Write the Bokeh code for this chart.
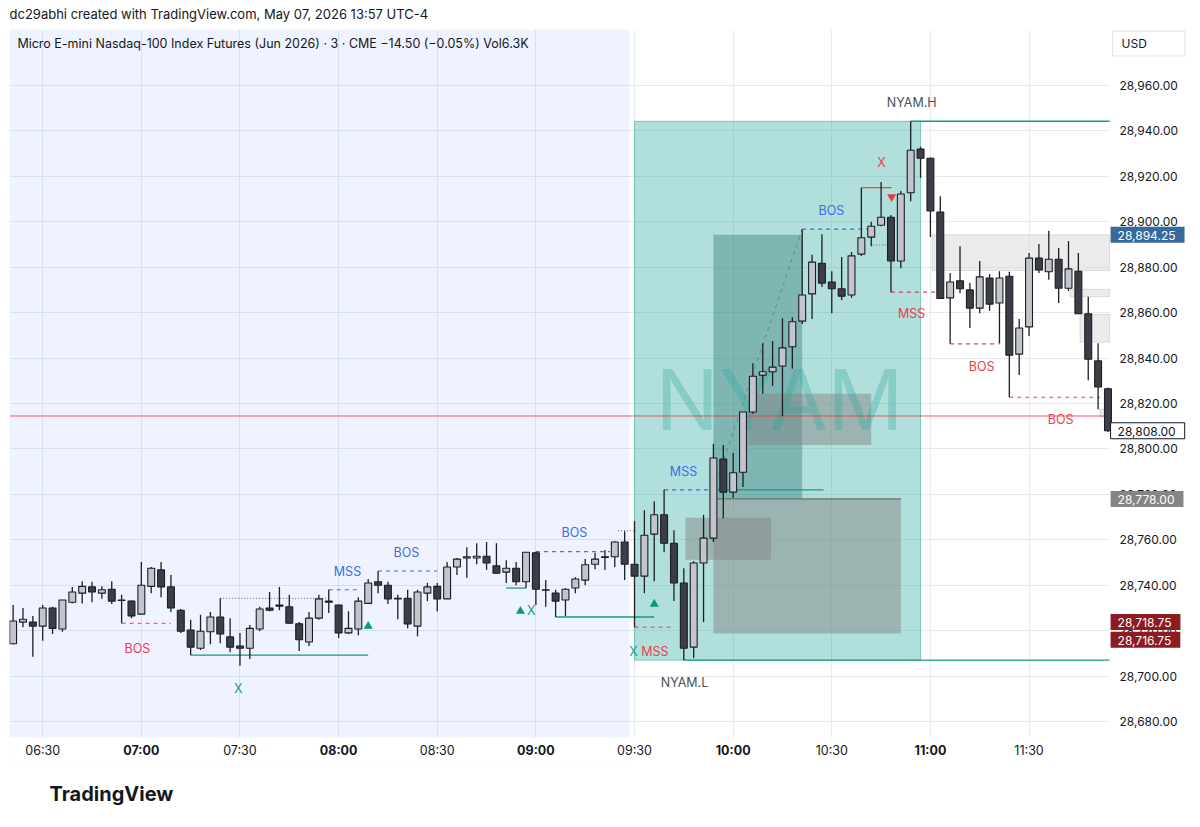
from bokeh.plotting import figure
from bokeh.models import (ColumnDataSource, BoxAnnotation, Label, Title, FixedTicker,
                          NumeralTickFormatter, Range1d)
from bokeh.core.properties import value
from bokeh.embed import file_html
from bokeh.resources import INLINE

FONT = "Inter"
TXT = "#131722"

# ---------------- data: 3-minute bars of MNQ (Jun 2026), 06:21 .. 11:54 ----------------
start_minute = 6 * 60 + 21
bar_minutes = 3

opens = [28714.25, 28723.75, 28723.75, 28722.00, 28730.00, 28720.75, 28732.50, 28736.50, 28739.25, 28736.50,
         28738.25, 28733.50, 28733.00, 28727.25, 28739.50, 28746.75, 28739.25, 28729.00, 28720.25, 28712.25,
         28719.50, 28726.00, 28717.25, 28713.25, 28712.25, 28720.75, 28730.00, 28731.25, 28730.50, 28723.00,
         28715.00, 28725.50, 28733.00, 28731.25, 28719.00, 28720.75, 28732.00, 28741.50, 28740.00, 28734.25,
         28734.25, 28722.00, 28736.50, 28739.50, 28734.00, 28748.00, 28752.00, 28752.00, 28752.75, 28748.50,
         28745.75, 28747.50, 28741.50, 28754.25, 28738.00, 28736.50, 28733.50, 28738.75, 28742.25, 28749.25,
         28752.50, 28752.50, 28759.00, 28749.25, 28744.00, 28762.50, 28771.00, 28758.50, 28741.00, 28712.75,
         28749.75, 28760.75, 28795.50, 28781.00, 28789.75, 28816.25, 28832.50, 28834.00, 28836.50, 28845.00,
         28856.25, 28868.25, 28881.75, 28873.50, 28870.50, 28867.75, 28885.75, 28893.25, 28898.50, 28902.00,
         28882.75, 28912.75, 28932.00, 28928.00, 28904.25, 28866.50, 28874.00, 28870.00, 28862.00, 28875.25,
         28864.25, 28876.00, 28841.75, 28853.75, 28884.00, 28878.00, 28883.50, 28870.75, 28878.25, 28859.50,
         28838.75, 28826.50]
highs = [28731.25, 28730.00, 28726.50, 28731.25, 28730.50, 28733.50, 28739.25, 28741.75, 28741.50, 28739.50,
         28741.75, 28735.75, 28733.25, 28750.25, 28748.00, 28750.25, 28744.50, 28729.50, 28724.75, 28727.00,
         28728.25, 28734.25, 28725.50, 28719.00, 28722.50, 28730.50, 28737.00, 28739.25, 28735.75, 28723.75,
         28728.25, 28735.75, 28738.00, 28731.50, 28728.50, 28734.75, 28742.75, 28746.25, 28741.50, 28735.75,
         28738.00, 28738.00, 28741.00, 28741.00, 28750.25, 28752.00, 28756.75, 28758.50, 28759.00, 28758.50,
         28751.00, 28750.25, 28754.50, 28754.75, 28742.25, 28738.00, 28738.75, 28743.50, 28751.50, 28754.25,
         28755.50, 28759.50, 28763.75, 28768.25, 28773.00, 28777.00, 28782.00, 28764.25, 28747.50, 28750.50,
         28771.00, 28802.25, 28801.75, 28798.25, 28816.25, 28837.75, 28846.50, 28847.50, 28857.50, 28858.00,
         28896.75, 28885.50, 28894.50, 28878.25, 28884.50, 28886.75, 28915.00, 28900.00, 28917.50, 28903.00,
         28913.50, 28944.25, 28933.00, 28928.25, 28911.25, 28877.50, 28889.25, 28873.00, 28882.75, 28877.00,
         28878.25, 28878.00, 28857.25, 28886.25, 28890.25, 28896.00, 28888.50, 28891.50, 28886.25, 28867.00,
         28846.50, 28827.00]
lows = [28714.00, 28721.50, 28708.50, 28715.50, 28718.50, 28719.50, 28732.00, 28732.00, 28732.50, 28734.00,
        28731.75, 28723.25, 28725.50, 28727.25, 28736.50, 28734.75, 28728.25, 28719.00, 28709.25, 28711.50,
        28714.00, 28714.50, 28710.50, 28704.50, 28707.50, 28719.75, 28728.50, 28729.00, 28723.00, 28711.00,
        28713.25, 28724.75, 28727.75, 28716.75, 28718.50, 28718.00, 28732.00, 28736.50, 28731.75, 28725.00,
        28721.00, 28717.50, 28733.00, 28728.50, 28734.00, 28744.50, 28743.25, 28749.25, 28746.75, 28745.00,
        28741.00, 28740.00, 28738.75, 28731.25, 28730.50, 28726.00, 28726.50, 28736.50, 28740.00, 28747.00,
        28746.75, 28748.00, 28742.25, 28721.50, 28736.50, 28741.75, 28754.50, 28733.00, 28707.00, 28708.00,
        28723.75, 28759.00, 28769.50, 28778.50, 28783.25, 28815.50, 28824.25, 28827.75, 28814.50, 28835.25,
        28855.00, 28857.25, 28871.25, 28859.75, 28865.50, 28866.50, 28885.00, 28889.25, 28898.00, 28869.00,
        28879.50, 28909.00, 28919.25, 28893.25, 28866.00, 28846.25, 28868.50, 28853.25, 28859.75, 28860.75,
        28846.50, 28822.75, 28832.50, 28849.75, 28877.50, 28874.50, 28864.25, 28869.50, 28859.50, 28830.25,
        28817.50, 28807.50]
closes = [28724.25, 28725.00, 28722.00, 28730.00, 28721.00, 28733.50, 28737.00, 28739.50, 28737.00, 28738.00,
          28733.00, 28733.25, 28726.50, 28740.00, 28747.50, 28739.25, 28730.00, 28719.75, 28712.75, 28719.75,
          28726.00, 28718.50, 28712.75, 28712.25, 28721.00, 28729.50, 28729.00, 28730.75, 28723.25, 28716.00,
          28725.50, 28734.00, 28732.50, 28719.00, 28721.00, 28733.00, 28741.00, 28740.00, 28734.00, 28734.00,
          28723.00, 28737.00, 28739.25, 28734.00, 28748.00, 28751.50, 28752.50, 28752.75, 28749.75, 28745.25,
          28747.50, 28741.50, 28754.50, 28738.25, 28737.75, 28733.00, 28738.25, 28742.75, 28749.00, 28751.50,
          28752.25, 28759.00, 28749.25, 28744.00, 28762.00, 28771.00, 28758.50, 28741.00, 28712.25, 28749.75,
          28760.75, 28796.00, 28781.00, 28789.50, 28816.25, 28832.00, 28834.00, 28836.00, 28844.50, 28856.00,
          28867.75, 28882.25, 28873.00, 28870.50, 28867.25, 28885.00, 28893.00, 28898.00, 28902.00, 28882.75,
          28912.25, 28931.50, 28928.00, 28904.75, 28866.25, 28873.50, 28870.50, 28862.00, 28875.75, 28863.75,
          28875.25, 28841.25, 28853.25, 28884.00, 28878.75, 28883.50, 28870.75, 28879.25, 28859.50, 28839.50,
          28827.25, 28808.00]

times = [start_minute + bar_minutes * i for i in range(len(opens))]

# visible chart window (minutes since midnight / price) and the scale strips around it
chart_x0, chart_x1 = 379.9, 714.5
chart_y0, chart_y1 = 28672.96, 28984.65
scale_x1 = 738.8      # right price-scale strip
scale_y0 = 28661.07   # bottom time-scale strip

# session / zones
premarket_end = 568.5
nyam_start, nyam_end = 570, 657
nyam_high, nyam_low = 28944.25, 28707.00
level_red = 28814.50

zone_dark = dict(left=594, right=621, bottom=28778.00, top=28894.25)
zones_gray = [dict(left=594, right=651, bottom=28718.75, top=28778.00),
              dict(left=604.5, right=642, bottom=28801.75, top=28824.25),
              dict(left=585.5, right=611.5, bottom=28751.25, top=28769.75)]
zones_light = [dict(left=660.5, right=chart_x1, bottom=28878.50, top=28894.25),
               dict(left=702.5, right=chart_x1, bottom=28867.00, top=28870.25),
               dict(left=705.5, right=chart_x1, bottom=28847.00, top=28859.25),
               dict(left=711.5, right=chart_x1, bottom=28814.25, top=28817.50)]

# structure lines: start time, end time, price
red_dash_x0 = [414, 570, 648, 666, 684]
red_dash_x1 = [429, 582, 663, 681, 711.5]
red_dash_y = [28723.25, 28721.50, 28869.00, 28846.25, 28822.75]
blue_dash_x0 = [477, 492, 540, 579, 621]
blue_dash_x1 = [486, 510, 562.5, 593, 641.5]
blue_dash_y = [28738.00, 28746.25, 28754.75, 28782.00, 28896.75]
teal_x0 = [435, 531, 546, 593, 654, 585]
teal_x1 = [489, 537, 576, 627.5, chart_x1, chart_x1]
teal_y = [28709.25, 28738.75, 28726.00, 28782.00, nyam_high, nyam_low]
dot_x0 = [444, 642.5, 565]
dot_x1 = [477, 648, 570]
dot_y = [28734.25, 28889.75, 28764.00]
sweep_x0, sweep_x1, sweep_y = [639], [648.2], [28915.00]
ob_top_x0, ob_top_x1, ob_top_y = [594], [651], [28778.00]
diag_x0, diag_x1, diag_y0, diag_y1 = [594], [621], [28782.00], [28896.75]

up_tri_t = [489, 535.3, 576]
up_tri_p = [28722.0, 28728.6, 28731.7]
dn_tri_t = [648.2]
dn_tri_p = [28911.0]

red_txt = ["BOS", "MSS", "X", "MSS", "BOS", "BOS"]
red_txt_t = [418.8, 576.2, 645.1, 654.3, 675.6, 699.6]
red_txt_p = [28712.0, 28711.0, 28926.0, 28859.6, 28836.3, 28813.0]
blue_txt = ["MSS", "BOS", "BOS", "MSS", "BOS"]
blue_txt_t = [482.7, 500.6, 551.7, 584.9, 629.9]
blue_txt_p = [28746.0, 28754.4, 28763.2, 28790.1, 28905.0]
teal_txt = ["X", "X", "X"]
teal_txt_t = [449.5, 538.6, 569.7]
teal_txt_p = [28694.7, 28728.9, 28711.0]
gray_txt = ["NYAM.H", "NYAM.L"]
gray_txt_t = [654.3, 585.2]
gray_txt_p = [28952.5, 28697.2]

tag_values = [28894.25, 28808.00, 28778.00, 28718.75, 28716.75]
tag_places = [28894.25, 28808.00, 28778.00, 28723.75, 28716.00]

half_hour_ticks = [390, 450, 510, 570, 630, 690]
half_hour_labels = ["06:30", "07:30", "08:30", "09:30", "10:30", "11:30"]
hour_ticks = [420, 480, 540, 600, 660]
hour_labels = ["07:00", "08:00", "09:00", "10:00", "11:00"]
price_ticks = [28680, 28700, 28720, 28740, 28760, 28780, 28800, 28820, 28840,
               28860, 28880, 28900, 28920, 28940, 28960]

# ---------------- figure ----------------
p = figure(frame_width=1180, frame_height=735,
           x_range=Range1d(chart_x0, scale_x1), y_range=Range1d(scale_y0, chart_y1),
           y_axis_location="right", output_backend="svg", toolbar_location=None,
           min_border_left=9, min_border_right=2, min_border_top=29, min_border_bottom=56,
           background_fill_color="white", border_fill_color="white", outline_line_color=None)

p.title.text = "dc29abhi created with TradingView.com, May 07, 2026 13:57 UTC-4"
p.title.text_font = FONT
p.title.text_font_size = "13px"
p.title.text_font_style = "normal"
p.title.text_color = TXT
p.title.align = "left"
p.title.vertical_align = "top"
p.title.standoff = 11

all_time_ticks = sorted(half_hour_ticks + hour_ticks)
p.xgrid.ticker = FixedTicker(ticks=all_time_ticks)
p.ygrid.ticker = FixedTicker(ticks=price_ticks)
p.grid.grid_line_color = "#e2e6ee"
p.grid.grid_line_alpha = 0.85

xa = p.xaxis[0]
xa.ticker = FixedTicker(ticks=all_time_ticks)
ov = {t: l for t, l in zip(half_hour_ticks, half_hour_labels)}
ov.update({t: "" for t in hour_ticks})
xa.major_label_overrides = ov
ya = p.yaxis[0]
ya.ticker = FixedTicker(ticks=price_ticks)
ya.formatter = NumeralTickFormatter(format="0,0.00")
for ax in (xa, ya):
    ax.axis_line_color = None
    ax.major_tick_line_color = None
    ax.minor_tick_line_color = None
    ax.major_label_text_font = FONT
    ax.major_label_text_color = TXT
xa.major_label_text_font_size = "12.5px"
ya.major_label_text_font_size = "12px"
xa.major_label_standoff = -28   # labels sit in the time-scale strip
ya.major_label_standoff = -76   # labels sit in the price-scale strip

# zones
p.add_layout(BoxAnnotation(right=premarket_end, fill_color="#2962ff", fill_alpha=0.08,
                           line_color=None, level="underlay"))
# scale strips (white, hide grid)
p.add_layout(BoxAnnotation(left=chart_x1, fill_color="white", fill_alpha=1.0,
                           line_color=None, level="underlay"))
p.add_layout(BoxAnnotation(top=chart_y0, fill_color="white", fill_alpha=1.0,
                           line_color=None, level="underlay"))
p.add_layout(BoxAnnotation(left=nyam_start, right=nyam_end, bottom=nyam_low, top=nyam_high,
                           fill_color="#26a69a", fill_alpha=0.36, line_color="#26a69a",
                           line_alpha=0.5, level="underlay"))
p.add_layout(BoxAnnotation(**zone_dark, fill_color="#327878", fill_alpha=0.4,
                           line_color=None, level="underlay"))
for z in zones_gray:
    p.add_layout(BoxAnnotation(**z, fill_color="#808080", fill_alpha=0.45,
                               line_color=None, level="underlay"))
for z in zones_light:
    p.add_layout(BoxAnnotation(**z, fill_color="#d8d8d8", fill_alpha=0.5,
                               line_color="#a0a0a0", line_width=1, level="underlay"))

p.text(x=[614.1], y=[28821.8], text=["NYAM"], text_font=value(FONT), text_font_size="84px",
       text_color="#26a69a", text_alpha=0.3, text_align="center", text_baseline="middle")

p.segment(x0=[chart_x0], x1=[chart_x1], y0=[level_red], y1=[level_red],
          line_color="#f23645", line_width=1, line_alpha=0.8)

# structure lines
p.segment(x0=red_dash_x0, x1=red_dash_x1, y0=red_dash_y, y1=red_dash_y,
          line_color="#e8414f", line_width=1.2, line_dash="4 4")
p.segment(x0=blue_dash_x0, x1=blue_dash_x1, y0=blue_dash_y, y1=blue_dash_y,
          line_color="#3d6ee6", line_width=1.2, line_dash="4 4")
p.segment(x0=teal_x0, x1=teal_x1, y0=teal_y, y1=teal_y, line_color="#159a86", line_width=1.3)
p.segment(x0=dot_x0, x1=dot_x1, y0=dot_y, y1=dot_y, line_color="#5d6673", line_width=1,
          line_dash="1 2")
p.segment(x0=sweep_x0, x1=sweep_x1, y0=sweep_y, y1=sweep_y, line_color="#e8414f", line_width=1.2)
p.segment(x0=ob_top_x0, x1=ob_top_x1, y0=ob_top_y, y1=ob_top_y, line_color="#6b7070", line_width=1.2)
p.segment(x0=diag_x0, x1=diag_x1, y0=diag_y0, y1=diag_y1, line_color="#5f8f8a", line_width=1,
          line_dash="4 4")

# candles
body_top = [max(o, c) for o, c in zip(opens, closes)]
body_bot = [min(o, c) for o, c in zip(opens, closes)]
fills = ["#c3c5cc" if c >= o else "#3b3e46" for o, c in zip(opens, closes)]
src = ColumnDataSource(dict(t=times, h=highs, l=lows, top=body_top, bot=body_bot, fill=fills))
p.segment(x0="t", x1="t", y0="l", y1="h", source=src, line_color="#1c1e24", line_width=1.3)
p.vbar(x="t", width=2.1, top="top", bottom="bot", source=src, fill_color="fill",
       line_color="#1c1e24", line_width=1.1)

p.scatter(x=up_tri_t, y=up_tri_p, marker="triangle", size=9, fill_color="#089981", line_color=None)
p.scatter(x=dn_tri_t, y=dn_tri_p, marker="inverted_triangle", size=9, fill_color="#f23645",
          line_color=None)

for txt, tx, ty, col in [(red_txt, red_txt_t, red_txt_p, "#e8414f"),
                         (blue_txt, blue_txt_t, blue_txt_p, "#3d6ee6"),
                         (teal_txt, teal_txt_t, teal_txt_p, "#159a86"),
                         (gray_txt, gray_txt_t, gray_txt_p, "#4a4f5a")]:
    p.text(x=tx, y=ty, text=txt, text_font=value(FONT), text_font_size="12.5px",
           text_color=col, text_align="center", text_baseline="middle")

# symbol header inside chart
p.add_layout(Label(x=382.3, y=28978.5,
                   text="Micro E-mini Nasdaq-100 Index Futures (Jun 2026) · 3 · CME  −14.50 (−0.05%)  Vol6.3K",
                   text_font=FONT, text_font_size="12.5px", text_color=TXT, text_baseline="middle"))

# bold hour labels in the time-scale strip
for t, lab in zip(hour_ticks, hour_labels):
    p.add_layout(Label(x=t, y=chart_y0 - 6 / 2.2714, text=lab, text_font=FONT, text_font_size="12.5px",
                       text_font_style="bold", text_color=TXT, text_align="center",
                       text_baseline="top"))

# price tags on the scale
tag_x = chart_x1 + 0.3
tag_styles = [("#37699c", "white", None), ("white", TXT, TXT), ("#858585", "white", None),
              ("#8c1b22", "white", None), ("#8c1b22", "white", None)]
for v, yp, (bg, fg, bd) in zip(tag_values, tag_places, tag_styles):
    p.add_layout(Label(x=tag_x, y=yp, text=f"{v:,.2f}", text_font=FONT, text_font_size="12px",
                       text_color=fg, text_baseline="middle", text_align="left",
                       background_fill_color=bg, border_line_color=bd,
                       padding=dict(left=7, right=9, top=4, bottom=3)))
p.add_layout(Label(x=chart_x1 + 0.9, y=28978.5, text="USD", text_font=FONT, text_font_size="12px",
                   text_color=TXT, text_baseline="middle", border_line_color="#e0e3eb",
                   background_fill_color="white",
                   padding=dict(left=9, right=38, top=5, bottom=5)))

foot = Title(text="TradingView", align="left", text_font=FONT, text_font_size="20px",
             text_font_style="bold", text_color=TXT, offset=40, standoff=30)
p.add_layout(foot, "below")

open("out.html", "w").write(file_html(p, INLINE))
